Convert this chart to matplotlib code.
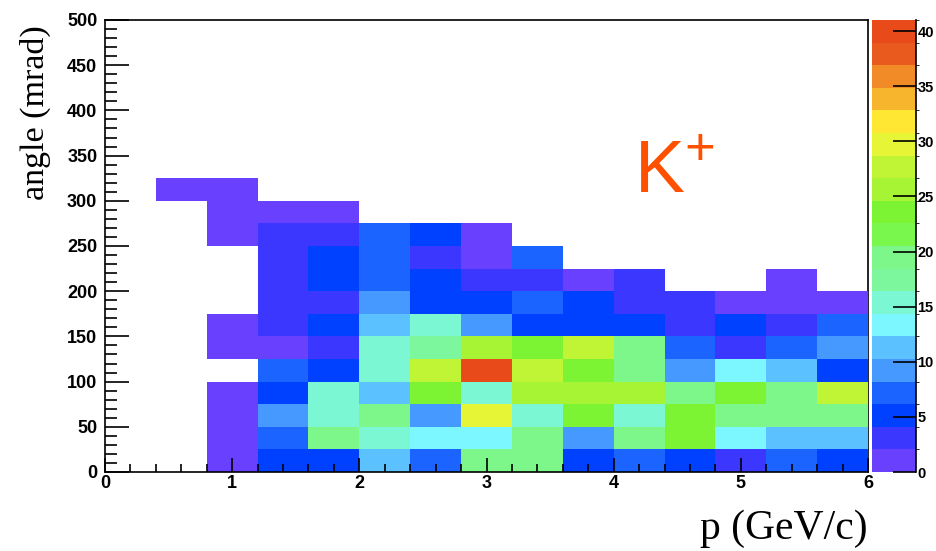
import matplotlib.pyplot as plt
import numpy as np
from matplotlib.colors import BoundaryNorm, ListedColormap
from matplotlib.ticker import MultipleLocator

plt.rcParams["font.family"] = ["Liberation Sans", "DejaVu Sans"]

# histogram binning: p in GeV/c, angle in mrad
p_edges = [0.0, 0.4, 0.8, 1.2, 1.6, 2.0, 2.4, 2.8, 3.2, 3.6, 4.0, 4.4, 4.8, 5.2, 5.6, 6.0]
angle_edges = [0, 25, 50, 75, 100, 125, 150, 175, 200, 225, 250, 275, 300, 325]

# entries per bin, rows go up in angle (0-25 mrad first), columns go along p
counts = [
    [0, 0, 1, 5, 5, 11, 7, 19, 19, 5, 7, 5, 3, 7, 5],
    [0, 0, 1, 7, 19, 15, 13, 13, 19, 9, 19, 23, 13, 11, 11],
    [0, 0, 1, 9, 15, 19, 9, 29, 15, 23, 15, 23, 19, 19, 19],
    [0, 0, 1, 5, 15, 11, 23, 15, 25, 25, 25, 19, 23, 19, 27],
    [0, 0, 0, 7, 5, 15, 27, 41, 27, 23, 19, 9, 13, 11, 5],
    [0, 0, 1, 1, 3, 15, 17, 25, 23, 27, 19, 7, 3, 7, 9],
    [0, 0, 1, 3, 5, 11, 15, 9, 5, 5, 5, 3, 5, 3, 7],
    [0, 0, 0, 3, 3, 9, 5, 5, 7, 5, 3, 3, 1, 1, 1],
    [0, 0, 0, 3, 5, 7, 5, 3, 3, 1, 3, 0, 0, 1, 0],
    [0, 0, 0, 3, 5, 7, 3, 1, 7, 0, 0, 0, 0, 0, 0],
    [0, 0, 1, 3, 3, 7, 5, 1, 0, 0, 0, 0, 0, 0, 0],
    [0, 0, 1, 1, 1, 0, 0, 0, 0, 0, 0, 0, 0, 0, 0],
    [0, 1, 1, 0, 0, 0, 0, 0, 0, 0, 0, 0, 0, 0, 0],
]
z_max = 41
cbar_ticks = [0, 5, 10, 15, 20, 25, 30, 35, 40]

# ROOT-like "pretty palette", 20 contour levels
palette = [
    "#6a40ff", "#3b37ff", "#0040ff", "#1c64ff", "#4599ff",
    "#5cc1ff", "#7cf7ff", "#7cf7d3", "#7cf79e", "#7ef78a",
    "#7af74c", "#7cf434", "#a6f434", "#bff535", "#e6f536",
    "#ffe733", "#f7b52e", "#f08b28", "#e95a1f", "#e84a1a",
]

cmap = ListedColormap(palette)
norm = BoundaryNorm(np.linspace(0, z_max, len(palette) + 1), len(palette))
z = np.ma.masked_equal(np.array(counts, dtype=float), 0)

fig = plt.figure(figsize=(9.36, 5.51), dpi=100)
ax = fig.add_axes([105 / 936, 79 / 551, 763 / 936, 452 / 551])
mesh = ax.pcolormesh(p_edges, angle_edges, z, cmap=cmap, norm=norm,
                     antialiased=False, edgecolors="none")

ax.set_xlim(0, 6)
ax.set_ylim(0, 500)
ax.set_xticks(range(0, 7))
ax.set_yticks(range(0, 501, 50))
ax.xaxis.set_minor_locator(MultipleLocator(0.2))
ax.yaxis.set_minor_locator(MultipleLocator(10))
ax.tick_params(axis="x", which="major", direction="in", length=10, width=1.2, pad=2.5, labelsize=13)
ax.tick_params(axis="x", which="minor", direction="in", length=5.5, width=1.2)
ax.tick_params(axis="y", which="major", direction="in", length=17, width=1.2, pad=5.5, labelsize=13)
ax.tick_params(axis="y", which="minor", direction="in", length=8.5, width=1.2)
for lbl in ax.get_xticklabels() + ax.get_yticklabels():
    lbl.set_fontweight("bold")
for side in ax.spines:
    ax.spines[side].set_linewidth(1.2)
ax.spines["right"].set_zorder(0.5)

# palette axis on the right
cax = fig.add_axes([872 / 936, 79 / 551, 44 / 936, 452 / 551])
cb = fig.colorbar(mesh, cax=cax, ticks=cbar_ticks)
cb.outline.set_visible(False)
cax.spines["right"].set_visible(True)
cax.spines["right"].set_linewidth(1.2)
cax.tick_params(direction="in", length=16.5, width=1.2, pad=1, labelsize=10.5)
for lbl in cax.get_yticklabels():
    lbl.set_fontweight("bold")

fig.text(868 / 936, 12 / 551, "p (GeV/c)", family="Liberation Serif", fontsize=30,
         ha="right", va="baseline")
fig.text(35 / 936, 1 - 25 / 551, "angle (mrad)", family="Liberation Serif", fontsize=24.5,
         rotation=90, ha="center", va="top")
fig.text(634 / 936, 1 - 193 / 551, r"$\mathregular{K^{+}}$", color="#ff5000",
         fontsize=54, ha="left", va="baseline")

fig.savefig("out.png", dpi=100)
plt.close(fig)
